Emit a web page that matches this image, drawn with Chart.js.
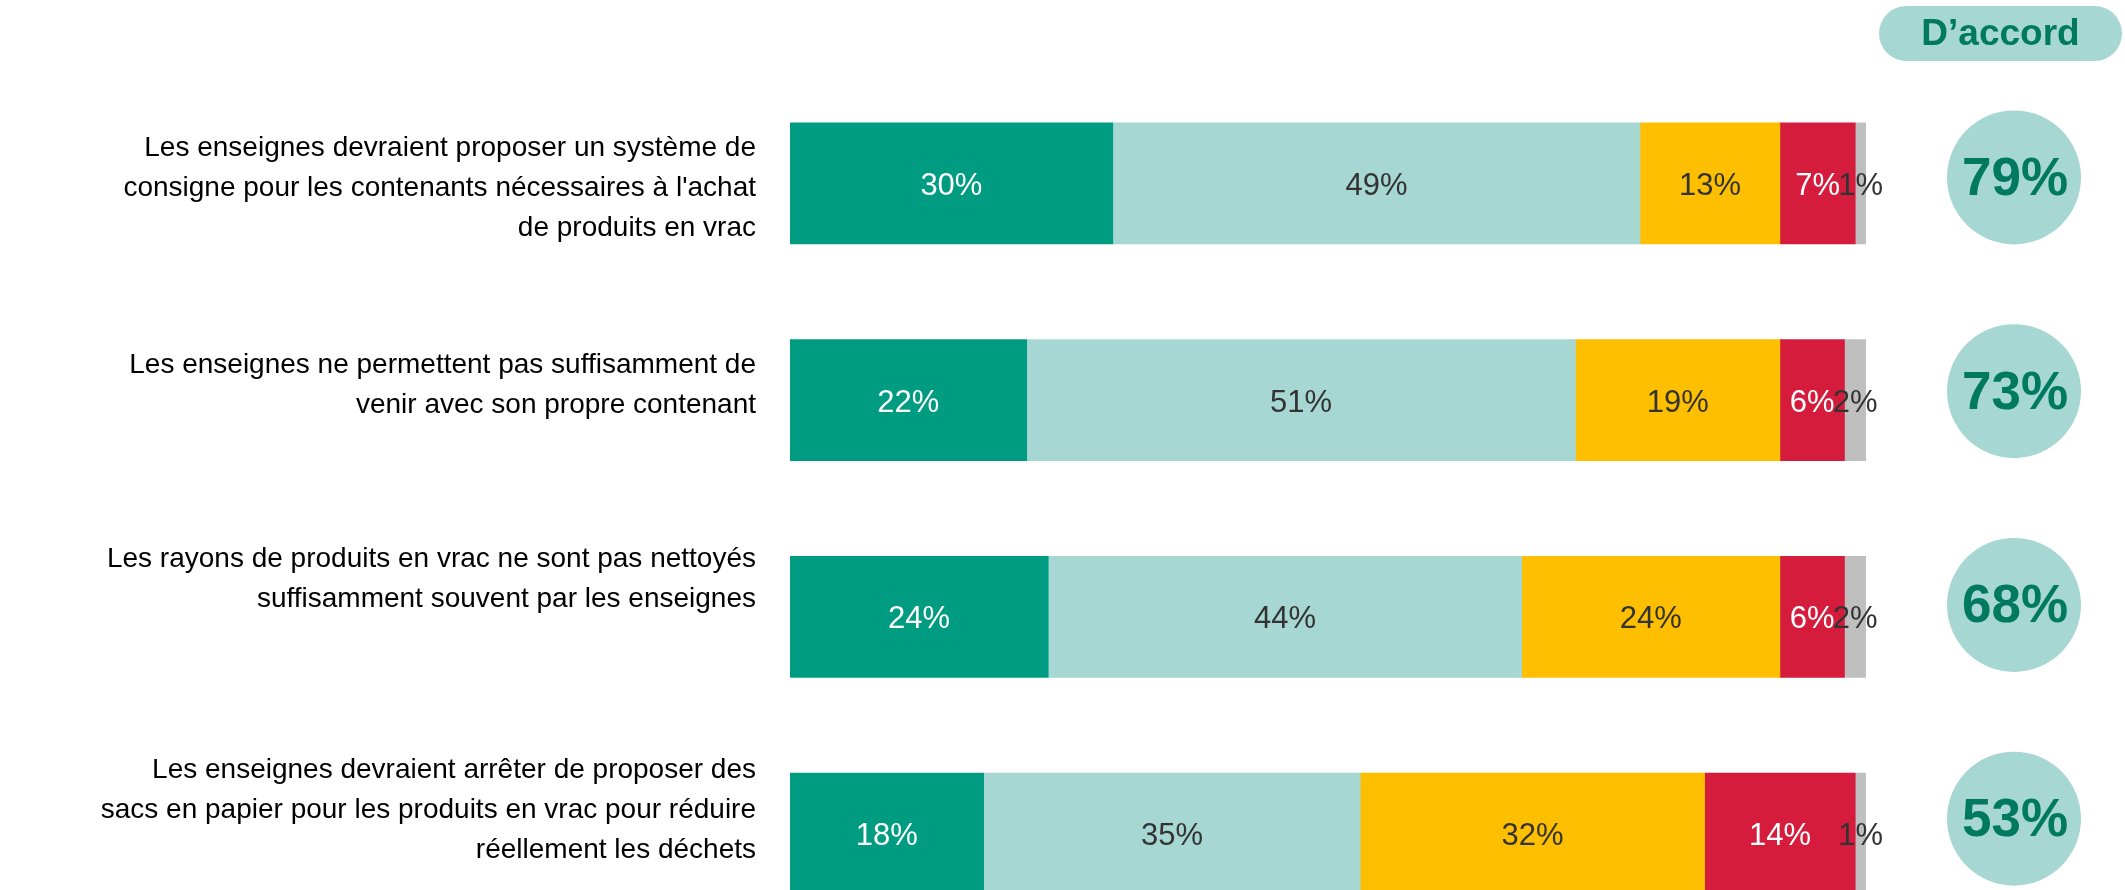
<!DOCTYPE html>
<html lang="fr">
<head>
<meta charset="utf-8">
<title>Vrac - enseignes</title>
<script src="https://cdn.jsdelivr.net/npm/chart.js"></script>
<style>
  html, body { margin: 0; padding: 0; background: #fff; overflow: hidden; }
  #wrap { position: relative; width: 2125px; height: 890px; overflow: hidden; }
  canvas { display: block; }
</style>
</head>
<body>
<div id="wrap">
  <canvas id="vracChart" width="2125" height="942"></canvas>
</div>
<script>
// statements (one per bar)
const statements = [
  ["Les enseignes devraient proposer un système de", "consigne pour les contenants nécessaires à l'achat", "de produits en vrac"],
  ["Les enseignes ne permettent pas suffisamment de", "venir avec son propre contenant"],
  ["Les rayons de produits en vrac ne sont pas nettoyés", "suffisamment souvent par les enseignes"],
  ["Les enseignes devraient arrêter de proposer des", "sacs en papier pour les produits en vrac pour réduire", "réellement les déchets"]
];

// answers, in %
const toutAFait = [30, 22, 24, 18];
const plutotOui = [49, 51, 44, 35];
const plutotNon = [13, 19, 24, 32];
const pasDuTout = [7, 6, 6, 14];
const nsp = [1, 2, 2, 1];

// total "D'accord"
const agree = [79, 73, 68, 53];

// small vertical nudges so labels / circles sit like in the original slide
const labelNudge = [5, -15, -38, -23];
const circleNudge = [-6, -9, -12, -15];

const FONT = "'Liberation Sans', Arial, Helvetica, sans-serif";
const DARK_GREEN = "#007a5f";

var segLabels = {
  id: "segLabels",
  afterDatasetsDraw(chart) {
    var ctx = chart.ctx;
    ctx.save();
    ctx.font = "31px " + FONT;
    ctx.textAlign = "center";
    ctx.textBaseline = "middle";
    chart.data.datasets.forEach(function (ds, di) {
      var meta = chart.getDatasetMeta(di);
      meta.data.forEach(function (bar, i) {
        var x = (bar.x + bar.base) / 2;
        ctx.fillStyle = ds.labelColor;
        ctx.fillText(ds.data[i] + "%", x, bar.y + 3);
      });
    });
    ctx.restore();
  }
};

var sideStuff = {
  id: "sideStuff",
  afterDraw(chart) {
    var ctx = chart.ctx;
    var y = chart.scales.y;
    ctx.save();

    // statement texts, right aligned left of the bars
    ctx.font = "28px " + FONT;
    ctx.fillStyle = "#000";
    ctx.textAlign = "right";
    ctx.textBaseline = "middle";
    var lh = 40;
    statements.forEach(function (lines, i) {
      var cy = y.getPixelForValue(i) + labelNudge[i];
      var start = cy - (lines.length - 1) * lh / 2;
      lines.forEach(function (t, k) {
        ctx.fillText(t, 756, start + k * lh);
      });
    });

    // "D'accord" pill
    var px = 1879, py = 6, pw = 243, ph = 55, r = ph / 2;
    ctx.fillStyle = "#a7d7d3";
    ctx.beginPath();
    ctx.moveTo(px + r, py);
    ctx.lineTo(px + pw - r, py);
    ctx.arc(px + pw - r, py + r, r, -Math.PI / 2, Math.PI / 2);
    ctx.lineTo(px + r, py + ph);
    ctx.arc(px + r, py + r, r, Math.PI / 2, Math.PI * 1.5);
    ctx.closePath();
    ctx.fill();
    ctx.fillStyle = DARK_GREEN;
    ctx.font = "bold 37px " + FONT;
    ctx.textAlign = "center";
    ctx.fillText("D\u2019accord", px + pw / 2, py + ph / 2 + 1);

    // circles with the agree totals
    agree.forEach(function (v, i) {
      var cy = y.getPixelForValue(i) + circleNudge[i];
      ctx.fillStyle = "#a7d7d3";
      ctx.beginPath();
      ctx.arc(2014, cy, 67, 0, Math.PI * 2);
      ctx.fill();
      ctx.fillStyle = DARK_GREEN;
      ctx.font = "bold 53px " + FONT;
      ctx.fillText(v + "%", 2015, cy + 3);
    });
    ctx.restore();
  }
};

var ctx = document.getElementById("vracChart").getContext("2d");
var myChart = new Chart(ctx, {
  type: "bar",
  data: {
    labels: statements,
    datasets: [
      { label: "Tout à fait d'accord", data: toutAFait, backgroundColor: "#009c82", labelColor: "#ffffff" },
      { label: "Plutôt d'accord", data: plutotOui, backgroundColor: "#a7d7d3", labelColor: "#333333" },
      { label: "Plutôt pas d'accord", data: plutotNon, backgroundColor: "#fdbf00", labelColor: "#333333" },
      { label: "Pas du tout d'accord", data: pasDuTout, backgroundColor: "#d51c3c", labelColor: "#ffffff" },
      { label: "Ne se prononce pas", data: nsp, backgroundColor: "#bfbfbf", labelColor: "#333333" }
    ]
  },
  options: {
    indexAxis: "y",
    responsive: false,
    animation: false,
    devicePixelRatio: 1,
    layout: { padding: { left: 790, right: 259, top: 75, bottom: 0 } },
    datasets: { bar: { barThickness: 121, borderWidth: 0 } },
    scales: {
      x: { stacked: true, min: 0, max: 100, display: false },
      y: { stacked: true, display: false }
    },
    plugins: {
      legend: { display: false },
      tooltip: { enabled: false }
    }
  },
  plugins: [segLabels, sideStuff]
});
</script>
</body>
</html>
